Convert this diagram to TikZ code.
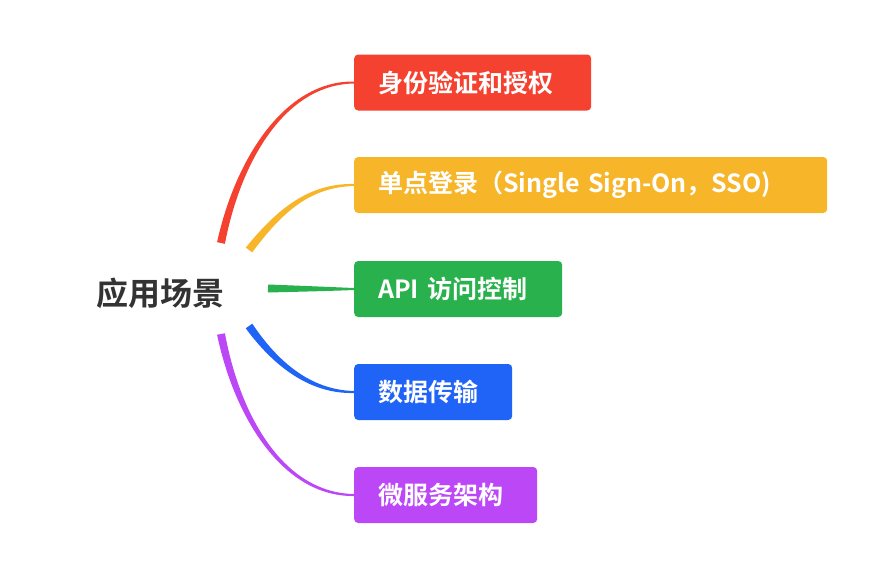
\documentclass[tikz,border=0pt]{standalone}
\usepackage{fontspec}
\setmainfont{Noto Sans CJK SC}[BoldFont={Noto Sans CJK SC Bold}]
\usetikzlibrary{calc}

\definecolor{cred}{HTML}{F5412F}
\definecolor{corange}{HTML}{F7B52A}
\definecolor{cgreen}{HTML}{28B14C}
\definecolor{cblue}{HTML}{1F63F7}
\definecolor{cpurple}{HTML}{BC47F7}
\definecolor{croot}{HTML}{333333}

\tikzset{
  leaf/.style={anchor=west, rounded corners=4pt, inner xsep=24pt, inner ysep=0pt,
    minimum height=56pt, align=left, text=white,
    font=\fontsize{25}{30}\selectfont\bfseries},
  rootnode/.style={text=croot, font=\fontsize{32}{36}\selectfont\bfseries}
}

% tapered branch: colour, start, control 1, control 2, end
\newcommand\taper[5]{%
  \fill[#1] ($(#2)!4pt!90:(#3)$)
    .. controls ($(#3)!3pt!90:(#4)$) and ($(#4)!2pt!90:(#5)$) .. ($(#5)!1pt!-90:(#4)$)
    -- ($(#5)!1pt!90:(#4)$)
    .. controls ($(#4)!2pt!-90:(#5)$) and ($(#3)!3pt!-90:(#4)$) .. ($(#2)!4pt!-90:(#3)$) -- cycle;
}

\begin{document}
\begin{tikzpicture}[x=1pt,y=-1pt]
\useasboundingbox (0,0) rectangle (891,570);

\node [rootnode] (root) at (160,293) {应用场景};

\node [leaf, fill=cred, text width=189pt] (auth) at (354,82.5) {身份验证和授权};
\node [leaf, fill=corange, text width=425pt] (sso) at (354,185) {单点登录（Single Sign-On，SSO)};
\node [leaf, fill=cgreen, text width=160pt] (api) at (354,289) {API 访问控制};
\node [leaf, fill=cblue, text width=110pt] (data) at (354,392) {数据传输};
\node [leaf, fill=cpurple, text width=135pt] (micro) at (354,495) {微服务架构};

\coordinate (s1) at (221,243);
\coordinate (s2) at (249,250);
\coordinate (s3) at (268,288.5);
\coordinate (s4) at (249,326);
\coordinate (s5) at (221,334);

\taper{cred}{s1}{238,160}{285,82.5}{auth.west}
\taper{corange}{s2}{280,210}{310,185}{sso.west}
\taper{cgreen}{s3}{300,288.7}{330,289}{api.west}
\taper{cblue}{s4}{280,370}{315,392}{data.west}
\taper{cpurple}{s5}{238,420}{285,495}{micro.west}
\end{tikzpicture}
\end{document}
